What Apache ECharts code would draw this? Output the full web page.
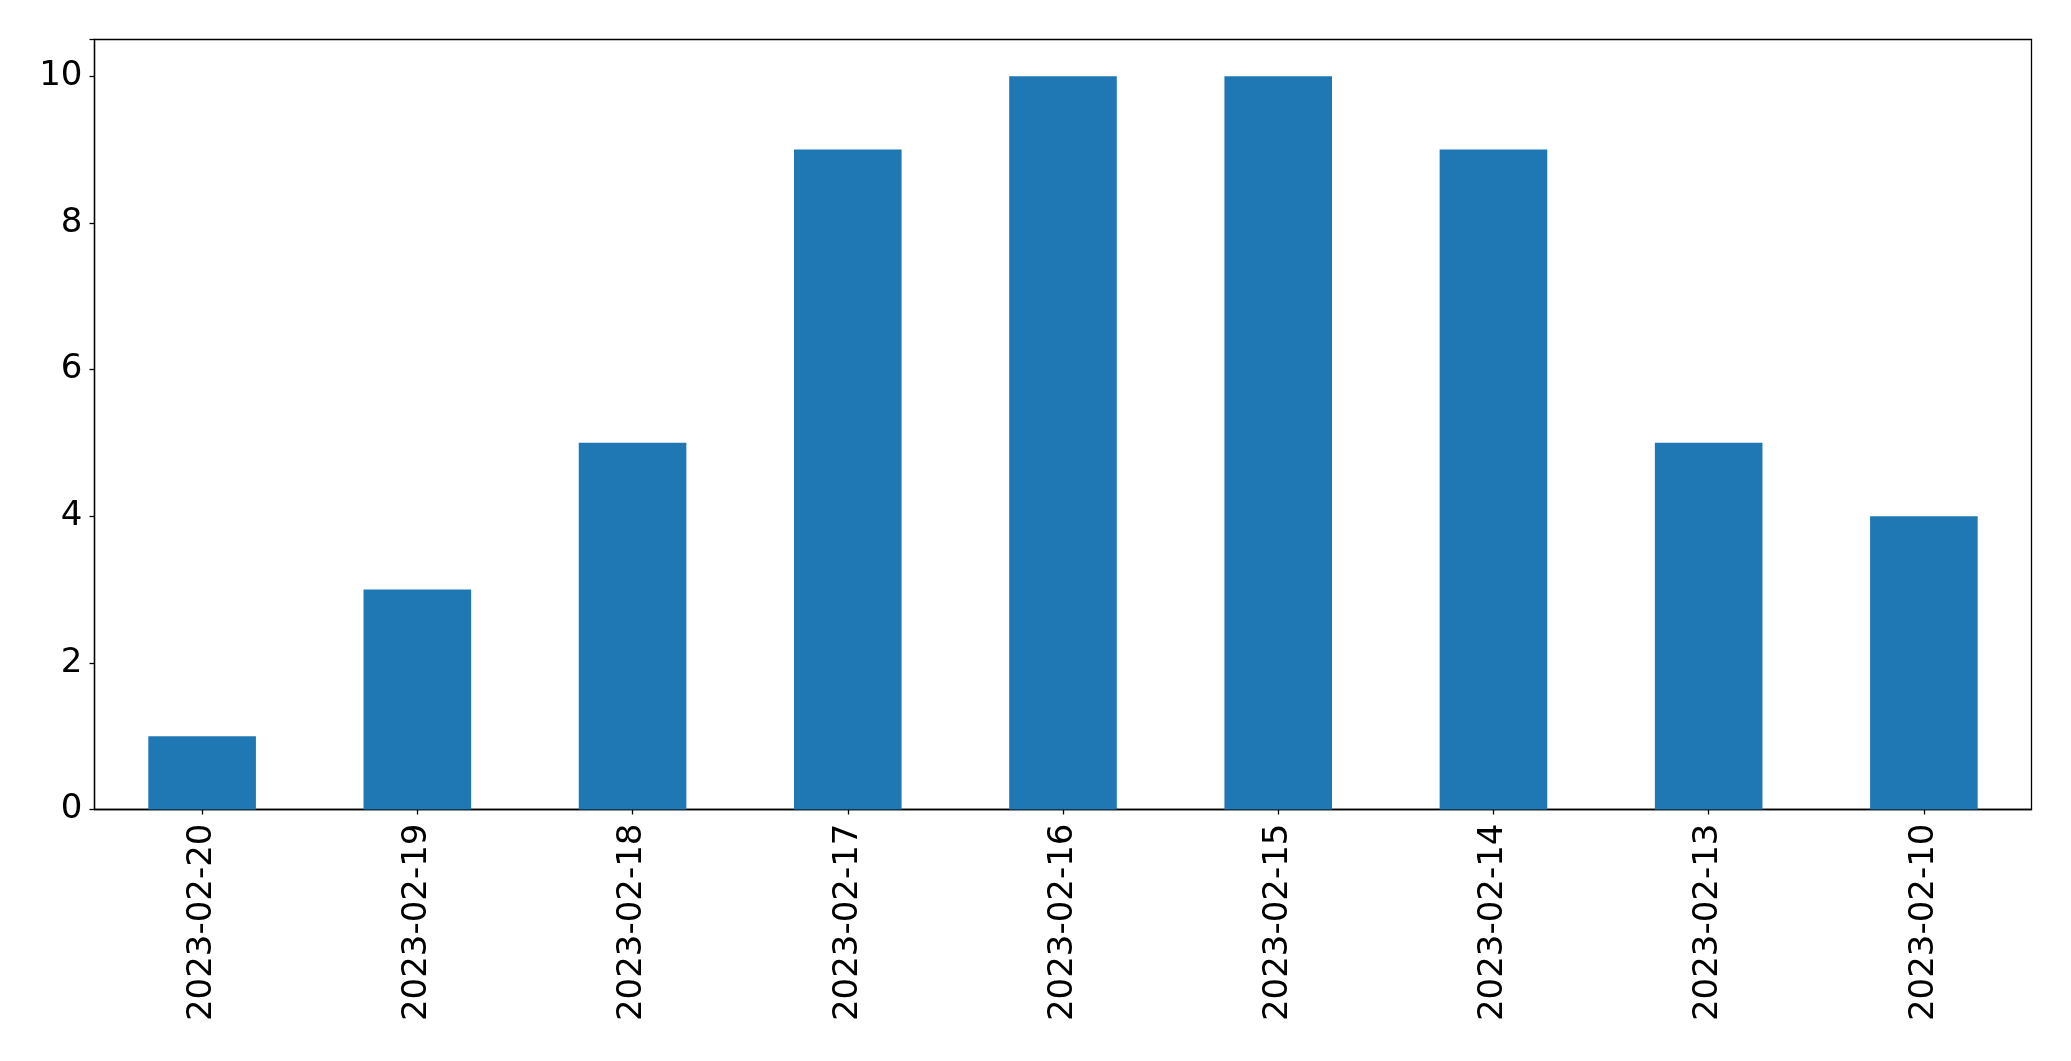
<!DOCTYPE html>
<html>
<head>
<meta charset="utf-8">
<script src="https://cdn.jsdelivr.net/npm/echarts@6/dist/echarts.min.js"></script>
<style>
html,body{margin:0;padding:0;background:#fff;}
#chart{width:2071px;height:1061px;}
</style>
</head>
<body>
<div id="chart"></div>
<script>
const categories = ['2023-02-20','2023-02-19','2023-02-18','2023-02-17','2023-02-16','2023-02-15','2023-02-14','2023-02-13','2023-02-10'];
const values = [1, 3, 5, 9, 10, 10, 9, 5, 4];
const yTicks = [0, 2, 4, 6, 8, 10];

const chart = echarts.init(document.getElementById('chart'), null, {renderer: 'canvas'});
const font = 'DejaVu Sans';
chart.setOption({
  animation: false,
  backgroundColor: '#fff',
  grid: {
    left: 94.5, right: 39.5, top: 39.5, bottom: 251.5,
    show: true, borderColor: '#000', borderWidth: 1.3, backgroundColor: 'transparent'
  },
  xAxis: {
    type: 'category',
    data: categories,
    axisLine: {show: true, lineStyle: {color: '#000', width: 1.3}},
    axisTick: {show: true, alignWithLabel: true, length: 5, lineStyle: {color: '#000', width: 1.3}},
    axisLabel: {rotate: 90, margin: 14, color: '#000', fontSize: 34, fontFamily: font, interval: 0},
    splitLine: {show: false}
  },
  yAxis: {
    type: 'value',
    min: 0, max: 10.5, interval: 2,
    axisLine: {show: true, lineStyle: {color: '#000', width: 1.3}},
    axisTick: {show: true, length: 5, lineStyle: {color: '#000', width: 1.3}},
    axisLabel: {margin: 12, color: '#000', fontSize: 34, fontFamily: font,
      formatter: v => yTicks.includes(v) ? String(v) : ''},
    splitLine: {show: false}
  },
  series: [{
    type: 'bar',
    data: values,
    barWidth: '50%',
    itemStyle: {color: '#1f77b4'}
  }]
});
</script>
</body>
</html>
